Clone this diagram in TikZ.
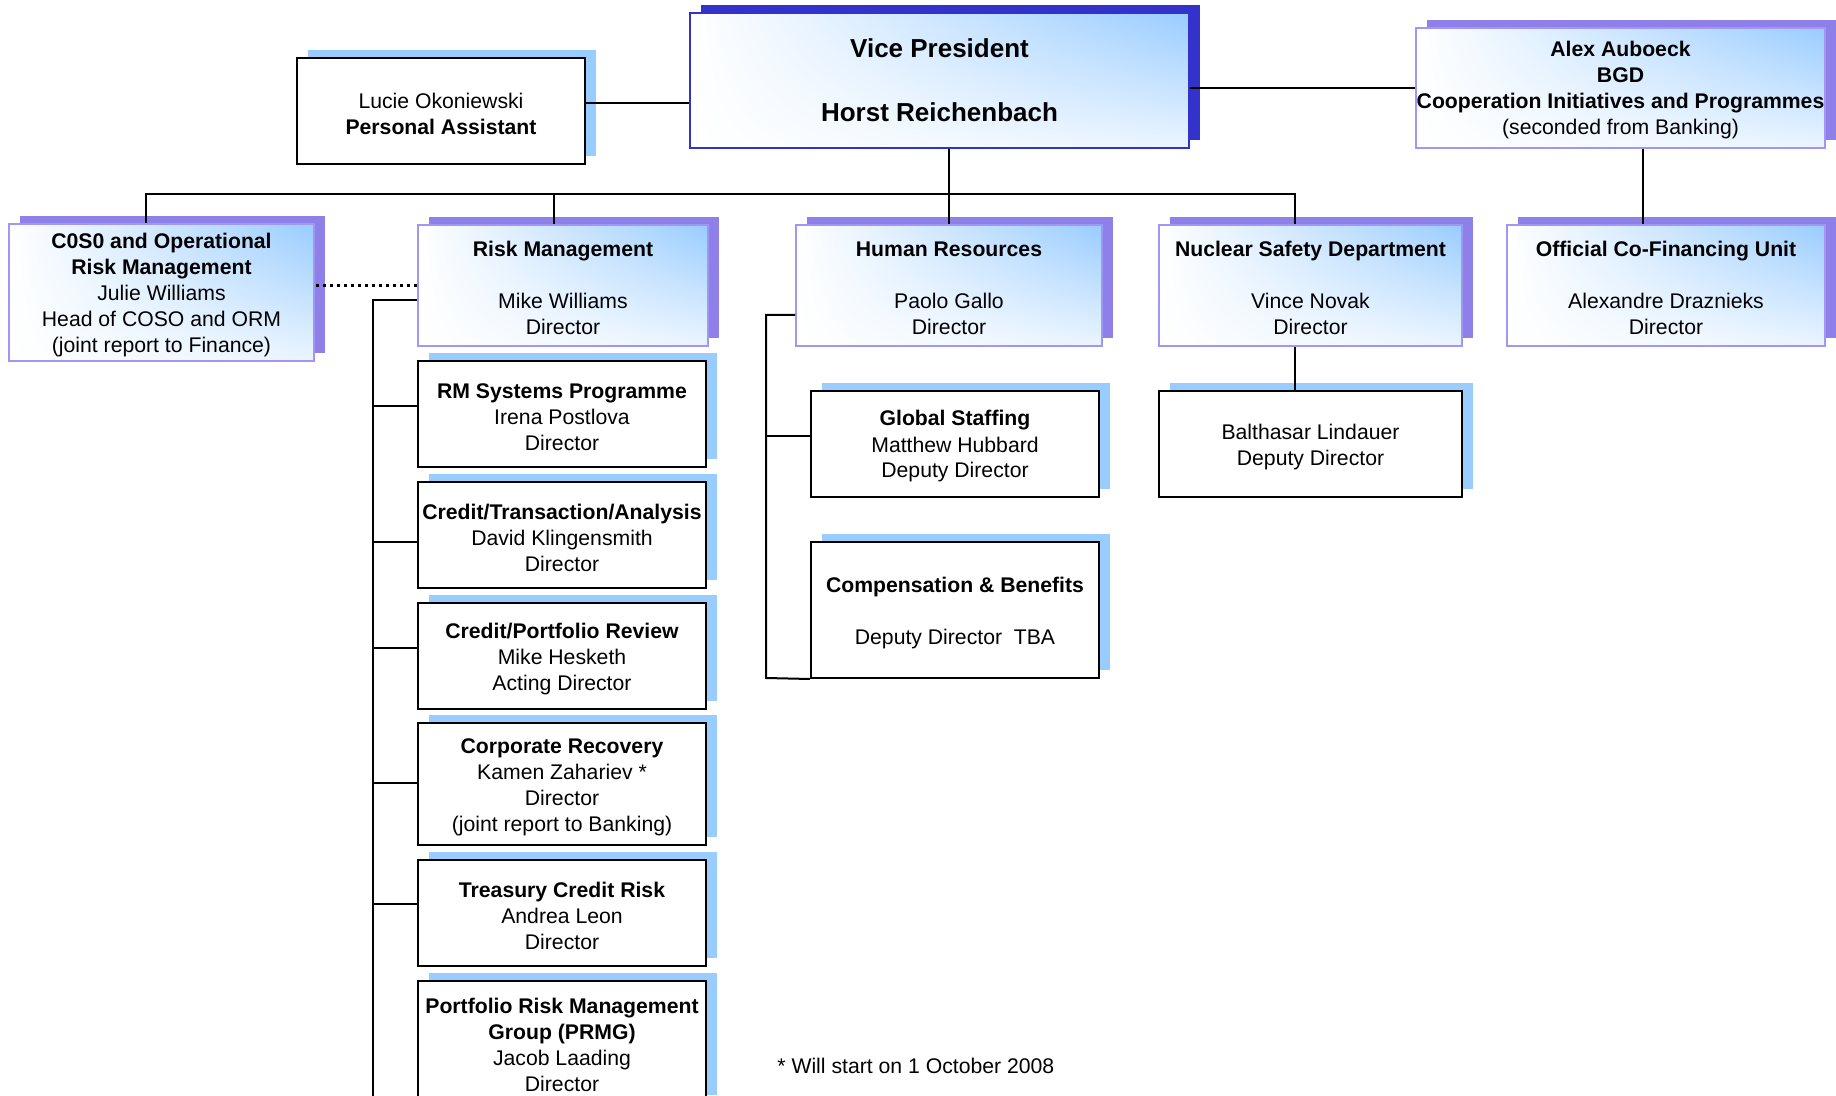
\documentclass[tikz,border=0pt]{standalone}
\usepackage{fontspec}
\setmainfont{Liberation Sans}
\usepackage{tikz}
\usetikzlibrary{calc,shadows,shadings}
\definecolor{skyblue}{RGB}{153,204,255}
\definecolor{shadowpurple}{RGB}{143,128,233}
\definecolor{vpblue}{RGB}{51,51,204}
\definecolor{boxline}{RGB}{160,150,245}
\newcommand{\topstrut}{\rule{0pt}{10.2pt}}
\tikzset{
	txt/.style={font=\fontsize{10.6}{13}\selectfont, align=center, inner sep=0pt},
	shaded/.style={upper left=white, lower left=white, upper right=skyblue, lower right=white!80!skyblue},
	unitbox/.style={txt, shaded, draw=boxline, line width=1pt,
		general shadow={fill=shadowpurple, draw=none, shadow xshift=5.5pt, shadow yshift=4pt}},
	vpbox/.style={shaded, inner sep=0pt, align=center, draw=vpblue, line width=1pt,
		font=\fontsize{13}{16}\selectfont\bfseries,
		general shadow={fill=vpblue, draw=none, shadow xshift=5.5pt, shadow yshift=4pt}},
	subbox/.style={txt, fill=white, draw=black, line width=1pt,
		general shadow={fill=skyblue, draw=none, shadow xshift=5.5pt, shadow yshift=4pt}},
	link/.style={line width=1pt},
	dotline/.style={line width=1.6pt, dash pattern=on 1.6pt off 1.9pt}
}

\begin{document}
\begin{tikzpicture}[x=0.5pt,y=-0.5pt]
	\useasboundingbox (0,0) rectangle (1836,1096);

	% top level
	\node[vpbox, minimum width=249.5pt, minimum height=67.5pt] (vp) at (939.5,80.5)
		{Vice President\\[16pt] Horst Reichenbach};
	\node[subbox, minimum width=144pt, minimum height=53pt] (pa) at (441,111)
		{\topstrut Lucie Okoniewski\\ \textbf{Personal Assistant}};
	\node[unitbox, minimum width=204.5pt, minimum height=60pt] (alex) at (1620.5,88)
		{\topstrut\textbf{Alex Auboeck}\\ \textbf{BGD}\\ \textbf{Cooperation Initiatives and Programmes}\\ (seconded from Banking)};

	% departments
	\node[unitbox, minimum width=152.5pt, minimum height=68.5pt] (coso) at (161.5,292.5)
		{\topstrut\textbf{C0S0 and Operational}\\ \textbf{Risk Management}\\ Julie Williams\\ Head of COSO and ORM\\ (joint report to Finance)};
	\node[unitbox, minimum width=145pt, minimum height=60.5pt] (rm) at (563,285.5)
		{\topstrut\textbf{Risk Management}\\[13pt] Mike Williams\\ Director};
	\node[unitbox, minimum width=153pt, minimum height=60.5pt] (hr) at (949,285.5)
		{\topstrut\textbf{Human Resources}\\[13pt] Paolo Gallo\\ Director};
	\node[unitbox, minimum width=151.5pt, minimum height=60.5pt] (nsd) at (1310.5,285.5)
		{\topstrut\textbf{Nuclear Safety Department}\\[13pt] Vince Novak\\ Director};
	\node[unitbox, minimum width=159pt, minimum height=60.5pt] (ocf) at (1666,285.5)
		{\topstrut\textbf{Official Co-Financing Unit}\\[13pt] Alexandre Draznieks\\ Director};

	% risk management units
	\node[subbox, minimum width=144pt, minimum height=53pt] (rmsys) at (562,414)
		{\topstrut\textbf{RM Systems Programme}\\ Irena Postlova\\ Director};
	\node[subbox, minimum width=144pt, minimum height=53pt] (cta) at (562,535)
		{\topstrut\textbf{Credit/Transaction/Analysis}\\ David Klingensmith\\ Director};
	\node[subbox, minimum width=144pt, minimum height=53pt] (cpr) at (562,656)
		{\topstrut\textbf{Credit/Portfolio Review}\\ Mike Hesketh\\ Acting Director};
	\node[subbox, minimum width=144pt, minimum height=61pt] (corp) at (562,784)
		{\topstrut\textbf{Corporate Recovery}\\ Kamen Zahariev *\\ Director\\ (joint report to Banking)};
	\node[subbox, minimum width=144pt, minimum height=53pt] (tcr) at (562,913)
		{\topstrut\textbf{Treasury Credit Risk}\\ Andrea Leon\\ Director};
	\node[subbox, minimum width=144pt, minimum height=61pt] (prmg) at (562,1042)
		{\topstrut\textbf{Portfolio Risk Management}\\ \textbf{Group (PRMG)}\\ Jacob Laading\\ Director};

	% human resources and nuclear safety units
	\node[subbox, minimum width=144pt, minimum height=53pt] (gs) at (955,444)
		{\topstrut\textbf{Global Staffing}\\ Matthew Hubbard\\ Deputy Director};
	\node[subbox, minimum width=144pt, minimum height=68pt] (comp) at (955,610)
		{\topstrut\textbf{Compensation \& Benefits}\\[13pt] Deputy Director\ \ TBA};
	\node[subbox, minimum width=151.5pt, minimum height=53pt] (bal) at (1310.5,444)
		{\topstrut Balthasar Lindauer\\ Deputy Director};

	\node[txt, anchor=base west] (note) at (777,1073) {* Will start on 1 October 2008};

	% connectors
	\coordinate (busL) at (146,194);
	\coordinate (busR) at (1295,194);
	\coordinate (rmdrop) at (554,194);
	\coordinate (rmrail) at (373,1110);
	\coordinate (hrrail) at (766,678);

	\draw[link] ([yshift=4pt]pa.east) -- ([yshift=4pt]pa.east -| vp.west);
	\draw[link] (alex.west) -- (alex.west -| vp.east);
	\draw[link] ([xshift=11.25pt]alex.south) -- ([xshift=11.25pt]alex.south |- ocf.north);
	\draw[link] (busL |- coso.north) -- (busL) -- (busR) -- (busR |- nsd.north);
	\draw[link] (rmdrop) -- (rmdrop |- rm.north);
	\draw[link] (hr.north) -- (hr.north |- vp.south);
	\draw[link] (busR |- nsd.south) -- (busR |- bal.north);
	\draw[dotline] (rm.west) -- (rm.west -| coso.east);

	\draw[link] ([yshift=-7.25pt]rm.west) -| (rmrail);
	\foreach \unit/\shift in {rmsys/4pt, cta/-3.5pt, cpr/4pt, corp/0.5pt, tcr/4.5pt}
		\draw[link] ([yshift=\shift]\unit.west) -- ([yshift=\shift]\unit.west -| rmrail);

	\draw[link] ([yshift=-14.75pt]hr.west) -| (hrrail) -- (comp.south west);
	\draw[link] ([yshift=4pt]gs.west) -- ([yshift=4pt]gs.west -| hrrail);
\end{tikzpicture}
\end{document}
